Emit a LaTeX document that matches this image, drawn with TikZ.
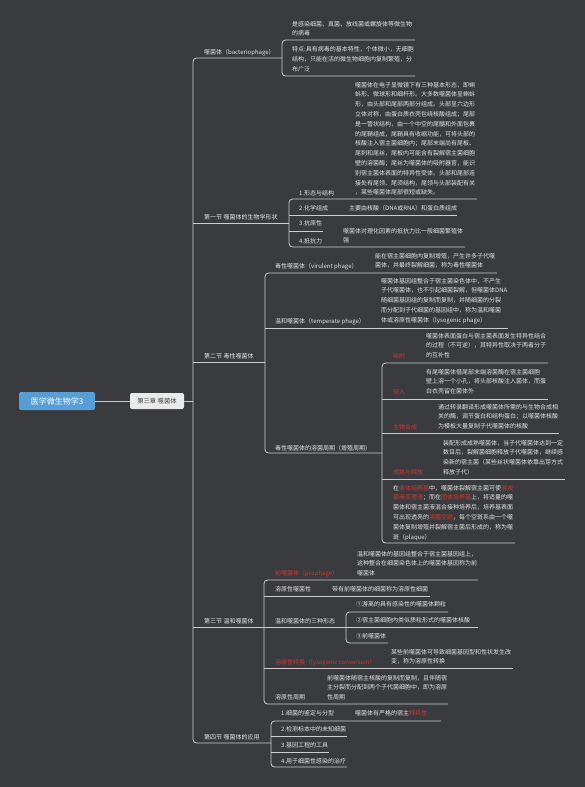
\documentclass[tikz,border=0pt]{standalone}
\usepackage{fontspec}
\setmainfont{Noto Sans CJK SC}
\definecolor{bg}{RGB}{58,59,63}
\definecolor{fg}{RGB}{228,228,228}
\definecolor{ln}{RGB}{205,205,205}
\definecolor{rd}{RGB}{208,56,48}
\definecolor{rootc}{RGB}{88,158,214}
\definecolor{chap}{RGB}{234,234,234}
\newcommand\T[5][tx]{\node[#1] (#2) at ({#3},{#4-3.2}) {#5};}
\newcommand\rd[1]{\textcolor{rd}{#1}}
\begin{document}
\begin{tikzpicture}[x=1pt,y=-1pt,
 conn/.style={draw=ln, line width=0.8pt},
 brk/.style={conn, rounded corners=3.5pt},
 tx/.style={text=fg, inner sep=0pt, align=left, anchor=north west, font=\fontsize{6}{9.8}\selectfont},
 rtx/.style={tx, text=rd}]
\fill[bg] (0,0) rectangle (585,787);
\useasboundingbox (0,0) rectangle (585,787);

% root and chapter
\node[fill=rootc, rounded corners=2pt, minimum width=76, minimum height=18, inner sep=0pt, text=white, font=\fontsize{8}{9}\selectfont] (root) at (57,401) {医学微生物学3};
\node[fill=chap, rounded corners=2pt, minimum width=54, minimum height=16, inner sep=0pt, text=black!75, font=\fontsize{6.3}{7}\selectfont] (chap) at (157,401) {第三章 噬菌体};
\coordinate (spine) at (193,401);
\draw[conn] (root.east) -- (chap.west);
\draw[conn] (chap.east) -- (spine);

% main spine
\draw[brk] (282,58) -- (193,58) -- (193,743) -- (271,743);
\draw[conn] (193,223) -- (289,223);
\draw[conn] (193,362) -- (265,362);
\draw[conn] (193,627) -- (478,627);

% branch 1
\T{bact}{204}{52}{噬菌体（bacteriophage）}
\draw[brk] (415,40) -- (282,40) -- (282,76) -- (415,76);
\T{b1a}{292}{24}{是感染细菌、真菌、放线菌或螺旋体等微生物\\的病毒}
\T{b1b}{292}{49.5}{特点:具有病毒的基本特性，个体微小，无细胞\\结构，只能在活的微生物细胞内复制繁殖，分\\布广泛}

% branch 2
\T{sec1}{204}{217}{第一节 噬菌体的生物学形状}
\draw[brk] (477,199) -- (289,199) -- (289,247) -- (465,247);
\draw[conn] (289,215) -- (457,215);
\draw[conn] (289,231) -- (323,231);
\T{s1a}{299}{193}{1.形态与结构}
\T{s1ap}{355}{85}{噬菌体在电子显微镜下有三种基本形态，即蝌\\蚪形、微球形和细杆形。大多数噬菌体呈蝌蚪\\形，由头部和尾部两部分组成。头部呈六边形\\立体对称，由蛋白质衣壳包绕核酸组成；尾部\\是一管状结构，由一个中空的尾髓和外面包裹\\的尾鞘组成，尾鞘具有收缩功能，可将头部的\\核酸注入宿主菌细胞内；尾部末端尚有尾板、\\尾刺和尾丝，尾板内可能含有裂解宿主菌细胞\\壁的溶菌酶；尾丝为噬菌体的吸附器官，能识\\别宿主菌体表面的特异性受体。头部和尾部连\\接处有尾领、尾须结构，尾领与头部装配有关\\，某些噬菌体尾部很短或缺失。}
\T{s1b}{299}{208}{2.化学组成}
\T{s1bp}{349}{208}{主要由核酸（DNA或RNA）和蛋白质组成}
\T{s1c}{299}{223}{3.抗原性}
\T{s1d}{299}{241}{4.抵抗力}
\T{s1dp}{343}{231}{噬菌体对理化因素的抵抗力比一般细菌繁殖体\\强}

% branch 3
\T{sec2}{204}{356}{第二节 毒性噬菌体}
\draw[brk] (497,273) -- (265,273) -- (265,453) -- (382,453);
\draw[conn] (265,328) -- (508,328);
\T{s2a}{275}{266}{毒性噬菌体（virulent phage）}
\T{s2ap}{375}{256}{能在宿主菌细胞内复制增殖，产生许多子代噬\\菌体，并最终裂解细菌，称为毒性噬菌体}
\T{s2b}{275}{321}{温和噬菌体（temperate phage）}
\T{s2bp}{381}{281}{噬菌体基因组整合于宿主菌染色体中，不产生\\子代噬菌体，也不引起细菌裂解，但噬菌体DNA\\随细菌基因组的复制而复制，并随细菌的分裂\\而分配到子代细菌的基因组中，称为温和噬菌\\体或溶原性噬菌体（lysogenic phage）}
\T{s2c}{275}{448}{毒性噬菌体的溶菌周期（增殖周期）}
\draw[brk] (548,363) -- (382,363) -- (382,543) -- (515,543);
\draw[conn] (382,399) -- (548,399);
\draw[conn] (382,433) -- (559,433);
\draw[conn] (382,479) -- (565,479);
\T[rtx]{c1}{393}{356}{吸附}
\T{c1p}{426}{336}{噬菌体表面蛋白与宿主菌表面发生特异性结合\\的过程（不可逆），其特异性取决于两者分子\\的互补性}
\T[rtx]{c2}{393}{392}{穿入}
\T{c2p}{426}{372}{有尾噬菌体借尾部末端溶菌酶在宿主菌细胞\\壁上溶一个小孔，将头部核酸注入菌体，而蛋\\白衣壳留在菌体外}
\T[rtx]{c3}{393}{427}{生物合成}
\T{c3p}{438}{407}{通过转录翻译形成噬菌体所需的与生物合成相\\关的酶，调节蛋白和结构蛋白；以噬菌体核酸\\为模板大量复制子代噬菌体的核酸}
\T[rtx]{c4}{393}{472}{成熟与释放}
\T{c4p}{443}{443}{装配形成成熟噬菌体，当子代噬菌体达到一定\\数目后，裂解菌细胞释放子代噬菌体，继续感\\染新的宿主菌（某些丝状噬菌体依靠出芽方式\\释放子代）}
\T{c5}{393}{488}{在\rd{液体培养基}中，噬菌体裂解宿主菌可使\rd{混浊}\\\rd{菌液变澄清}；而在\rd{固体培养基}上，将适量的噬\\菌体和宿主菌液混合接种培养后，培养基表面\\可出现透亮的\rd{溶菌空斑}，每个空斑系由一个噬\\菌体复制增殖并裂解宿主菌后形成的，称为噬\\斑（plaque）}

% branch 4
\T{sec3}{204}{621}{第三节 温和噬菌体}
\draw[brk] (478,580) -- (264,580) -- (264,704) -- (448,704);
\draw[conn] (264,596) -- (430,596);
\draw[conn] (264,668) -- (513,668);
\draw[brk] (448,612) -- (346,612) -- (346,643) -- (388,643);
\T[rtx]{t1}{275}{573}{前噬菌体（prophage）}
\T{t1p}{357}{554}{温和噬菌体的基因组整合于宿主菌基因组上，\\这种整合在细菌染色体上的噬菌体基因称为前\\噬菌体}
\T{t2}{275}{589}{溶原性噬菌性}
\T{t2p}{332}{589}{带有前噬菌体的细菌称为溶原性细菌}
\T{t3}{275}{621}{温和噬菌体的三种形态}
\T{t3a}{356}{604}{①游离的具有感染性的噬菌体颗粒}
\T{t3b}{356}{620}{②宿主菌细胞内类似质粒形式的噬菌体核酸}
\T{t3c}{356}{636}{③前噬菌体}
\T[rtx]{t4}{275}{662}{溶原性转换（lysogenic conversion）}
\T{t4p}{391}{652}{某些前噬菌体可导致细菌基因型和性状发生改\\变，称为溶原性转换}
\T{t5}{275}{697}{溶原性周期}
\T{t5p}{327}{678}{前噬菌体随宿主核酸的复制而复制，且伴随宿\\主分裂而分配到两个子代菌细胞中，即为溶原\\性周期}

% branch 5
\T{sec4}{204}{737}{第四节 噬菌体的应用}
\draw[brk] (441,721) -- (271,721) -- (271,767) -- (347,767);
\draw[conn] (271,736) -- (347,736);
\draw[conn] (271,752) -- (329,752);
\T{u1}{281}{713}{1.细菌的鉴定与分型}
\T{u1p}{355}{713}{噬菌体有严格的宿主\rd{特异性}}
\T{u2}{281}{729}{2.检测标本中的未知细菌}
\T{u3}{281}{745}{3.基因工程的工具}
\T{u4}{281}{761}{4.用于细菌性感染的治疗}
\end{tikzpicture}
\end{document}
